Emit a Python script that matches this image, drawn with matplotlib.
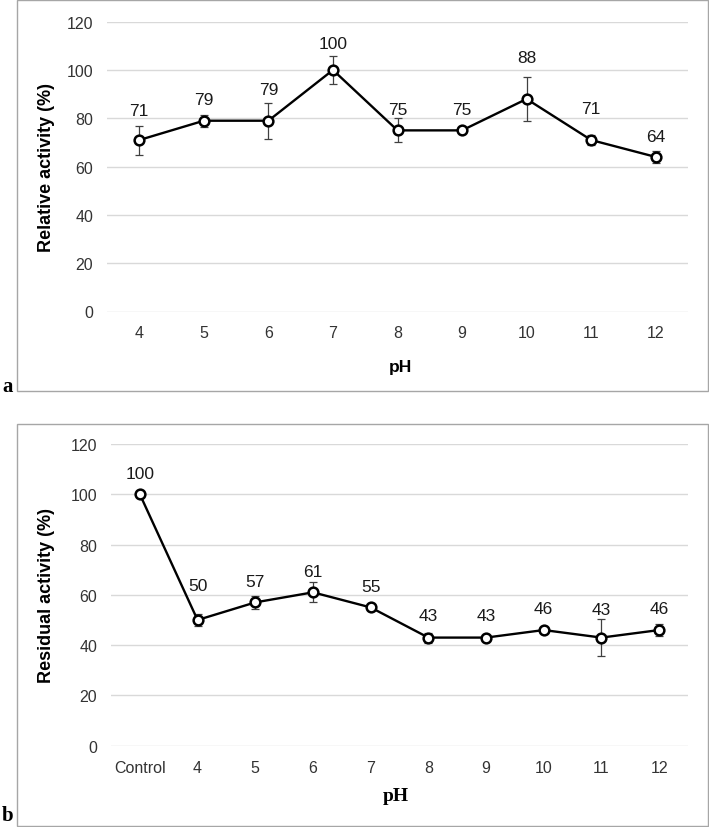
import matplotlib
matplotlib.use("Agg")
import matplotlib.pyplot as plt
from matplotlib.patches import Rectangle

# ── data ─────────────────────────────────────────────────────────────────────
ph_a = ["4", "5", "6", "7", "8", "9", "10", "11", "12"]
activity_a = [71, 79, 79, 100, 75, 75, 88, 71, 64]
err_a = [6, 2.5, 7.5, 6, 5, 1, 9, 2, 2.5]

ph_b = ["Control", "4", "5", "6", "7", "8", "9", "10", "11", "12"]
activity_b = [100, 50, 57, 61, 55, 43, 43, 46, 43, 46]
err_b = [1, 2.5, 2.5, 4, 1, 2, 1, 1, 7.5, 2.5]

y_ticks = [0, 20, 40, 60, 80, 100, 120]

# label lift above each marker (points) - as placed in the original figure
lift_a = [21, 15.5, 22.5, 19, 15, 15, 30, 22.5, 15]
lift_b = [15, 24.5, 15, 15, 15, 16, 16, 15.5, 20, 15.5]

W, H = 709, 828
SANS = "Liberation Sans"
SERIF = "Liberation Serif"


def px_axes(fig, left, right, top, bottom):
    """Add axes using pixel coordinates (top-left origin)."""
    return fig.add_axes([left / W, 1 - bottom / H, (right - left) / W, (bottom - top) / H])


def draw_panel(ax, cats, vals, errs, lifts, ylabel, label_x_px):
    x = list(range(len(cats)))
    ax.errorbar(x, vals, yerr=errs, fmt="none", ecolor="#404040",
                elinewidth=0.9, capsize=3, capthick=0.9, zorder=2)
    ax.plot(x, vals, color="black", linewidth=1.7, marker="o", markersize=7,
            markerfacecolor="white", markeredgecolor="black", markeredgewidth=1.8,
            zorder=3)
    for xi, v, dy in zip(x, vals, lifts):
        ax.annotate(f"{v}", (xi, v), xytext=(0, dy), textcoords="offset points",
                    ha="center", va="center", fontsize=12.5, family=SANS,
                    color="#1a1a1a")
    ax.set_xlim(-0.5, len(cats) - 0.5)
    ax.set_ylim(0, 120)
    ax.set_yticks(y_ticks)
    ax.set_xticks(x)
    ax.set_xticklabels(cats)
    ax.tick_params(length=0, labelsize=11.5, labelcolor="#333333")
    ax.tick_params(axis="y", pad=10)
    ax.tick_params(axis="x", pad=10)
    for lbl in ax.get_xticklabels() + ax.get_yticklabels():
        lbl.set_family(SANS)
    ax.yaxis.grid(True, color="#d9d9d9", linewidth=1)
    ax.set_axisbelow(True)
    for s in ax.spines.values():
        s.set_visible(False)
    ax.set_ylabel(ylabel, fontsize=13, fontweight="bold", family=SANS)
    bbox = ax.get_position()
    ax.yaxis.set_label_coords((label_x_px / W - bbox.x0) / bbox.width, 0.5)
    ax.yaxis.label.set_verticalalignment("center")


fig = plt.figure(figsize=(W / 100, H / 100), dpi=100)

# panel borders
fig.add_artist(Rectangle((17 / W, 1 - 392 / H), (708 - 17) / W, 391 / H,
                         transform=fig.transFigure, fill=False,
                         edgecolor="#a6a6a6", linewidth=1))
fig.add_artist(Rectangle((17 / W, 1 - 827 / H), (708 - 17) / W, (827 - 425) / H,
                         transform=fig.transFigure, fill=False,
                         edgecolor="#a6a6a6", linewidth=1))

ax_a = px_axes(fig, 107, 688, 22.7, 312.5)
draw_panel(ax_a, ph_a, activity_a, err_a, lift_a, "Relative activity (%)", 47)
fig.text(400 / W, 1 - 368 / H, "pH", ha="center", va="center",
         fontsize=12.5, fontweight="bold", family=SANS)
fig.text(2 / W, 1 - 387 / H, "a", ha="left", va="center",
         fontsize=15, fontweight="bold", family=SERIF)

ax_b = px_axes(fig, 111, 688, 445, 746.7)
draw_panel(ax_b, ph_b, activity_b, err_b, lift_b, "Residual activity (%)", 47)
fig.text(396 / W, 1 - 797 / H, "pH", ha="center", va="center",
         fontsize=14, fontweight="bold", family=SERIF)
fig.text(2 / W, 1 - 816 / H, "b", ha="left", va="center",
         fontsize=15, fontweight="bold", family=SERIF)

fig.savefig("out.png", dpi=100)
